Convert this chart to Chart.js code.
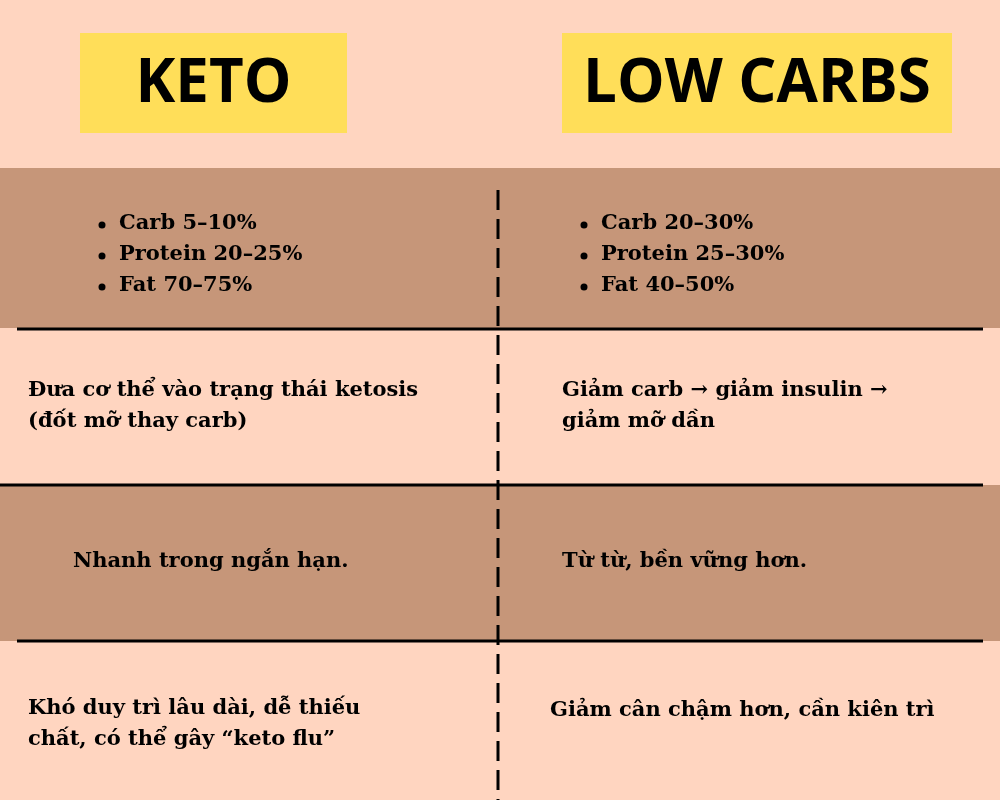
<!DOCTYPE html>
<html><head><meta charset="utf-8">
<script src="https://cdn.jsdelivr.net/npm/chart.js@4"></script>
<style>html,body{margin:0;padding:0;background:#FFD5C0}#c{display:block}</style>
</head><body>
<div style="width:1000px;height:800px"><canvas id="c"></canvas></div>
<script>
const headers = ["KETO", "LOW CARBS"];
const headerBoxes = [[80,347,33,133],[562,952,33,133]];
const rowBounds = [168, 328, 485, 641, 800];
const rowColors = ["#C69679", "#FFD5C0", "#C69679", "#FFD5C0"];
const leftCells = [
  {x:119, lines:["Carb 5–10%","Protein 20–25%","Fat 70–75%"], y:[224,255,286], bullet:true},
  {x:28, lines:["Đưa cơ thể vào trạng thái ketosis","(đốt mỡ thay carb)"], y:[391,422]},
  {x:73, lines:["Nhanh trong ngắn hạn."], y:[562]},
  {x:28, lines:["Khó duy trì lâu dài, dễ thiếu","chất, có thể gây “keto flu”"], y:[709,740]}
];
const rightCells = [
  {x:601, lines:["Carb 20–30%","Protein 25–30%","Fat 40–50%"], y:[224,255,286], bullet:true},
  {x:562, lines:["Giảm carb → giảm insulin →","giảm mỡ dần"], y:[391,422]},
  {x:562, lines:["Từ từ, bền vững hơn."], y:[562]},
  {x:550, lines:["Giảm cân chậm hơn, cần kiên trì"], y:[711]}
];
const hLines = [[17,983,329],[0,983,485],[17,983,641]];
const vLine = [498,190,800];

const drawPlugin = {
  id:'info',
  beforeDatasetsDraw(chart){
    const {ctx, scales:{x,y}} = chart;
    ctx.save();
    rowColors.forEach((c,i)=>{
      ctx.fillStyle=c;
      const y0=y.getPixelForValue(rowBounds[i]), y1=y.getPixelForValue(rowBounds[i+1]);
      ctx.fillRect(x.getPixelForValue(0),y0,x.getPixelForValue(1000)-x.getPixelForValue(0),y1-y0);
    });
    headerBoxes.forEach((b,i)=>{
      ctx.fillStyle="#FFDE59";
      const X0=x.getPixelForValue(b[0]),X1=x.getPixelForValue(b[1]),Y0=y.getPixelForValue(b[2]),Y1=y.getPixelForValue(b[3]);
      ctx.fillRect(X0,Y0,X1-X0,Y1-Y0);
      ctx.fillStyle="#000";ctx.font="bold 60px 'Open Sans'";ctx.textAlign="center";ctx.textBaseline="middle";
      ctx.fillText(headers[i],(X0+X1)/2,(Y0+Y1)/2+2);
    });
    ctx.strokeStyle="#000";ctx.lineWidth=3;
    hLines.forEach(l=>{ctx.beginPath();ctx.moveTo(x.getPixelForValue(l[0]),y.getPixelForValue(l[2]));ctx.lineTo(x.getPixelForValue(l[1]),y.getPixelForValue(l[2]));ctx.stroke();});
    ctx.setLineDash([20,9]);ctx.beginPath();ctx.moveTo(x.getPixelForValue(vLine[0]),y.getPixelForValue(vLine[1]));ctx.lineTo(x.getPixelForValue(vLine[0]),y.getPixelForValue(vLine[2]));ctx.stroke();ctx.setLineDash([]);
    ctx.fillStyle="#000";ctx.font="bold 21px 'DejaVu Serif'";ctx.textAlign="left";ctx.textBaseline="middle";
    [...leftCells,...rightCells].forEach(c=>{
      c.lines.forEach((t,j)=>{
        const py=y.getPixelForValue(c.y[j]);
        if(c.bullet){ctx.beginPath();ctx.arc(x.getPixelForValue(c.x-17),py+1,3.5,0,Math.PI*2);ctx.fill();}
        ctx.fillText(t,x.getPixelForValue(c.x),py);
      });
    });
    ctx.restore();
  }
};
new Chart(document.getElementById('c'),{
  type:'scatter',
  data:{datasets:[{data:[],pointRadius:0}]},
  options:{responsive:true,maintainAspectRatio:false,animation:false,
    layout:{padding:0},
    plugins:{legend:{display:false},tooltip:{enabled:false}},
    scales:{x:{type:'linear',min:0,max:1000,display:false},y:{type:'linear',min:0,max:800,reverse:true,display:false}}},
  plugins:[drawPlugin]
});
</script>
</body></html>
